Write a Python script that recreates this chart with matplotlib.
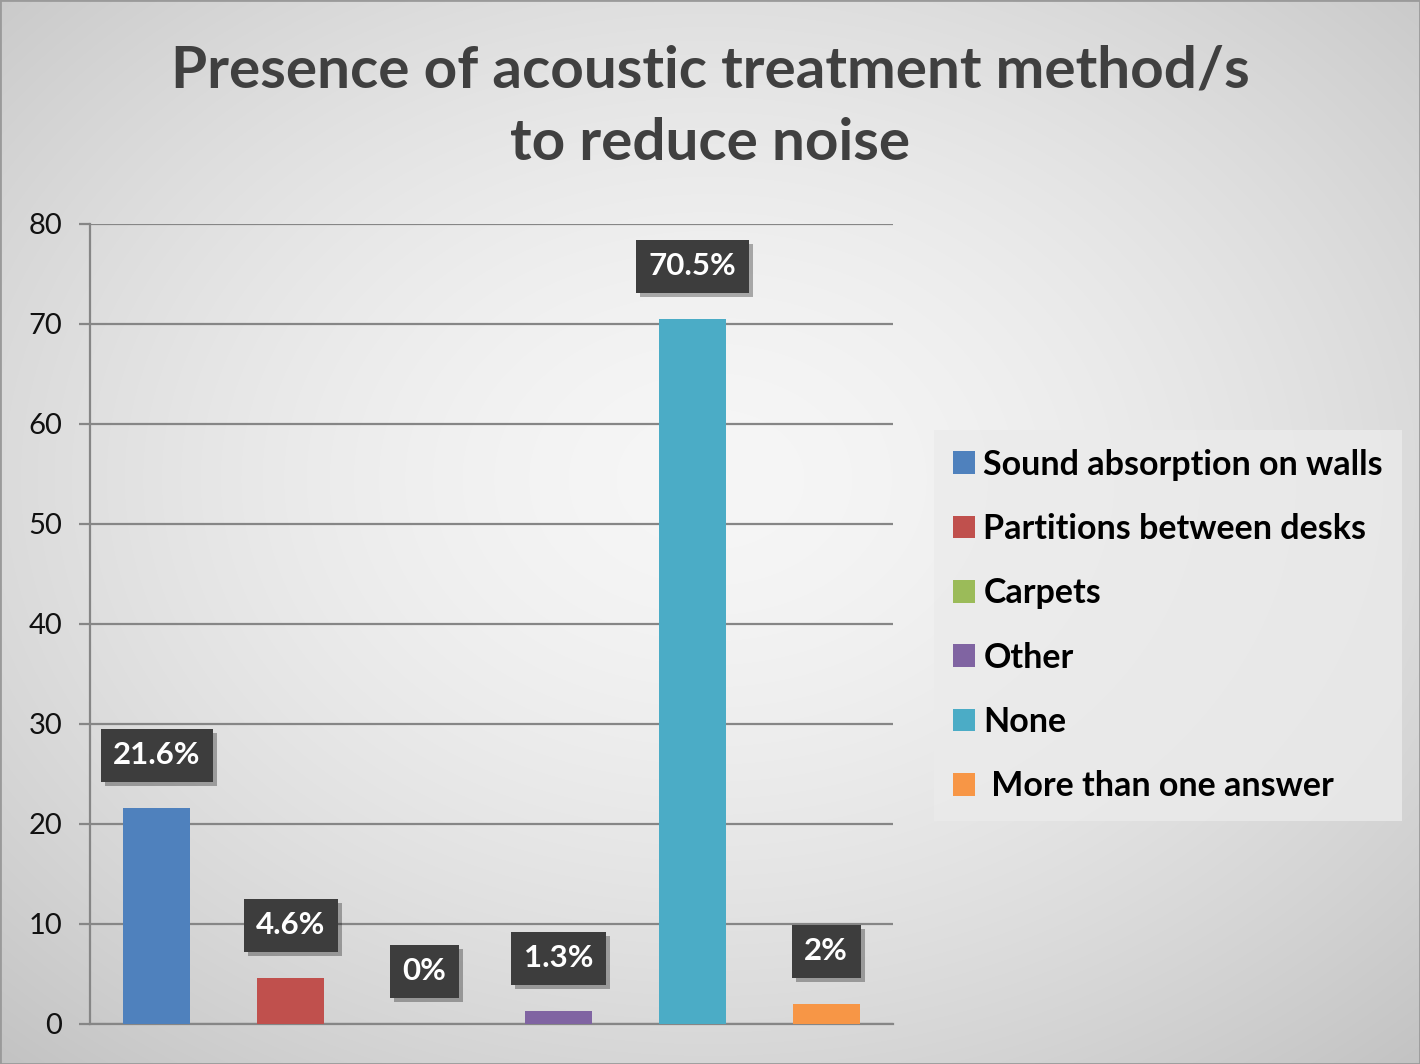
import numpy as np
import matplotlib
matplotlib.use("Agg")
import matplotlib.pyplot as plt
import matplotlib.patheffects as pe
from matplotlib.patches import Patch

categories = ["Sound absorption on walls", "Partitions between desks", "Carpets",
              "Other", "None", " More than one answer"]
values = [21.6, 4.6, 0.0, 1.3, 70.5, 2.0]
labels = ["21.6%", "4.6%", "0%", "1.3%", "70.5%", "2%"]
colors = ["#4f81bd", "#c0504d", "#9bbb59", "#8064a2", "#4bacc6", "#f79646"]
yticks = [0, 10, 20, 30, 40, 50, 60, 70, 80]
title = "Presence of acoustic treatment method/s\nto reduce noise"

W, H = 1420, 1064
fig = plt.figure(figsize=(W / 100, H / 100), dpi=100)

# radial gradient background
bg = fig.add_axes([0, 0, 1, 1], zorder=-10)
yy, xx = np.mgrid[0:H, 0:W]
cx, cy = W * 0.5, H * 0.45
r = np.sqrt(((xx - cx) / (W * 0.75)) ** 2 + ((yy - cy) / (H * 0.75)) ** 2)
r = np.clip(r, 0, 1)
light, dark = 0.965, 0.76
g = light - (light - dark) * r ** 1.6
img = np.dstack([g, g, g])
bg.imshow(img, aspect="auto", extent=[0, 1, 0, 1], origin="upper")
bg.set_axis_off()
fig.patches.append(plt.Rectangle((0, 0), 1, 1, transform=fig.transFigure,
                                 fill=False, edgecolor="#9a9a9a", lw=2))

font = "Lato"
ax = fig.add_axes([90 / W, 40 / H, (893 - 90) / W, (1024 - 224) / H])
ax.set_facecolor("none")
x = np.arange(len(values))
ax.bar(x, values, width=0.5, color=colors, zorder=3)
ax.set_xlim(-0.5, len(values) - 0.5)
ax.set_ylim(0, 80)
ax.set_yticks(yticks)
ax.set_yticklabels([str(t) for t in yticks], fontsize=21, fontfamily=font, color="#111111")
ax.set_xticks([])
ax.grid(axis="y", color="#868686", lw=1.6, zorder=0)
for s in ["top", "right"]:
    ax.spines[s].set_visible(False)
for s in ["left", "bottom"]:
    ax.spines[s].set_color("#868686")
    ax.spines[s].set_linewidth(1.6)
ax.tick_params(axis="y", length=8, width=1.6, color="#868686", pad=12)

for xi, v, lab in zip(x, values, labels):
    t = ax.annotate(lab, (xi, v), xytext=(0, 38), textcoords="offset points",
                    ha="center", va="center", fontsize=22.5, fontweight="bold",
                    fontfamily=font, color="white", zorder=5,
                    bbox=dict(boxstyle="square,pad=0.4", fc="#3d3d3d", ec="none"))
    t.get_bbox_patch().set_path_effects(
        [pe.SimplePatchShadow(offset=(3, -3), shadow_rgbFace="black", alpha=0.3), pe.Normal()])

fig.text(0.5, 1 - 107 / H, title, ha="center", va="center", fontsize=42,
         fontweight="bold", fontfamily=font, color="#404040", linespacing=1.45)

handles = [Patch(facecolor=c, edgecolor="none") for c in colors]
leg = fig.legend(handles, categories, loc="upper left",
                 bbox_to_anchor=(934 / W, 1 - 430 / H), frameon=True,
                 borderaxespad=0,
                 prop=dict(family=font, weight="bold", size=24.5),
                 handlelength=0.65, handleheight=0.65, handletextpad=0.25,
                 labelspacing=0.95, borderpad=0.55, fancybox=False)
leg.get_frame().set_facecolor("#ebebeb")
leg.get_frame().set_edgecolor("none")
leg.get_frame().set_alpha(0.8)

fig.savefig("out.png", dpi=100)
